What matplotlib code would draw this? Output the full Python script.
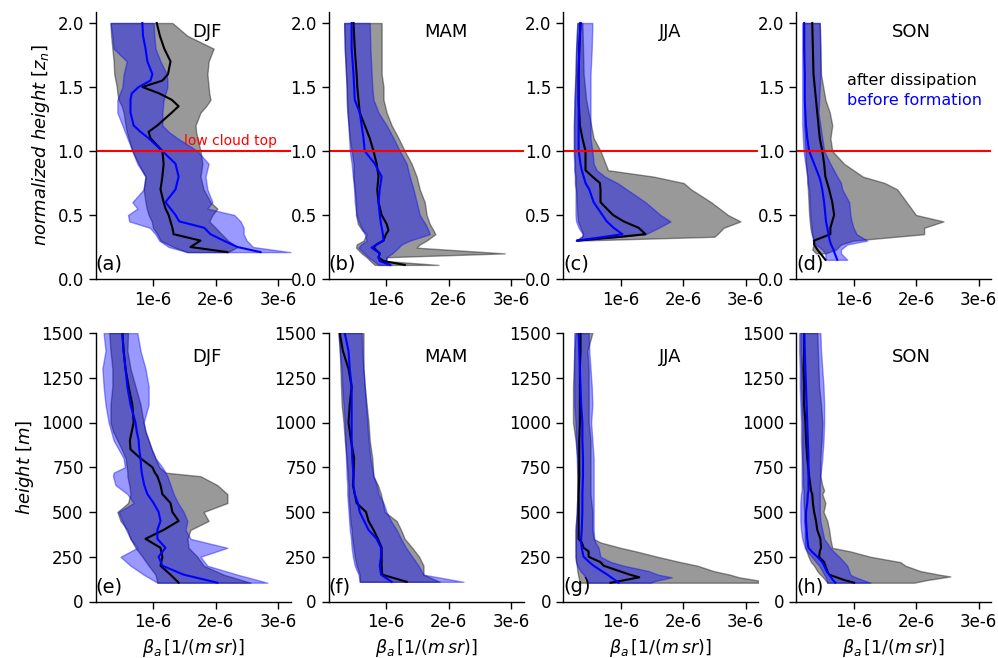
import numpy as np
import matplotlib
matplotlib.use("Agg")
import matplotlib.pyplot as plt

SCALE = 1e-6
nan = np.nan

seasons = ["DJF", "MAM", "JJA", "SON"]
panel_letters = ["(a)", "(b)", "(c)", "(d)", "(e)", "(f)", "(g)", "(h)"]
xtick_values = [1e-6, 2e-6, 3e-6]
xtick_labels = ["1e-6", "2e-6", "3e-6"]
ytick_top = [0.0, 0.5, 1.0, 1.5, 2.0]
ytick_bottom = [0, 250, 500, 750, 1000, 1250, 1500]

# ---------------- top row: normalized height ----------------
# (a) DJF
a_y = [2.0, 1.9, 1.8, 1.7, 1.6, 1.55, 1.5, 1.45, 1.4, 1.35, 1.3, 1.2, 1.15, 1.1, 1.0,
       0.9, 0.8, 0.7, 0.6, 0.55, 0.5, 0.45, 0.4, 0.35, 0.3, 0.25, 0.21]
a_after_lo = [0.32, 0.33, 0.35, 0.37, 0.38, 0.40, 0.42, 0.43, 0.45, 0.50, 0.53, 0.56, 0.58, 0.61, 0.67,
              0.77, 0.88, 0.85, 0.88, 0.90, 0.93, 0.98, 1.00, 1.07, 1.12, 1.33, 1.55]
a_after_hi = [1.31, 1.55, 1.97, 1.89, 1.87, 1.88, 1.89, 1.90, 1.92, 1.85, 1.76, 1.68, 1.69, 1.71, 1.76,
              1.79, 1.76, 1.81, 1.92, 2.03, 1.95, 1.90, 2.00, 2.10, 2.20, 2.35, 2.20]
a_after_med = [1.06, 1.11, 1.18, 1.28, 1.24, 1.15, 0.83, 1.10, 1.30, 1.41, 1.30, 1.07, 0.93, 0.96, 1.15,
               1.17, 1.15, 1.12, 1.17, 1.20, 1.25, 1.28, 1.31, 1.33, 1.76, 1.60, 2.19]
a_before_lo = [0.32, 0.35, 0.37, 0.58, 0.53, 0.52, 0.51, 0.47, 0.43, 0.43, 0.43, 0.51, 0.55, 0.59, 0.67,
               0.75, 0.88, 0.85, 0.67, 0.75, 0.60, 0.62, 0.95, 1.04, 1.10, 1.25, 1.55]
a_before_hi = [1.01, 1.02, 1.04, 1.12, 1.22, 1.23, 1.23, 1.20, 1.17, 1.16, 1.15, 1.15, 1.25, 1.39, 1.71,
               1.89, 1.84, 1.87, 1.95, 1.87, 2.30, 2.40, 2.45, 2.45, 2.50, 2.60, 3.20]
a_before_med = [0.83, 0.84, 0.88, 0.91, 0.99, 0.96, 0.77, 0.66, 0.64, 0.64, 0.64, 0.69, 0.80, 0.93, 1.15,
                1.36, 1.41, 1.36, 1.20, 1.28, 1.36, 1.42, 1.82, 1.92, 2.13, 2.35, 2.72]

# (b) MAM
b_y = [2.0, 1.8, 1.6, 1.5, 1.4, 1.3, 1.2, 1.1, 1.0, 0.9, 0.8, 0.7, 0.6, 0.5, 0.43, 0.38,
       0.35, 0.3, 0.27, 0.245, 0.2, 0.17, 0.14, 0.11]
b_after_lo = [0.33, 0.34, 0.36, 0.37, 0.37, 0.38, 0.40, 0.42, 0.45, 0.48, 0.48, 0.50, 0.52, 0.52, 0.55, 0.62,
              0.69, 0.64, 0.53, 0.52, 0.61, 0.69, 0.75, 0.82]
b_after_hi = [0.93, 0.93, 0.93, 0.96, 0.96, 1.01, 1.09, 1.20, 1.30, 1.41, 1.49, 1.54, 1.62, 1.65, 1.70, 1.76,
              1.79, 1.65, 1.54, 1.49, 2.90, 1.01, 1.01, 1.84]
b_after_med = [0.48, 0.50, 0.53, 0.54, 0.56, 0.58, 0.66, 0.74, 0.80, 0.85, 0.88, 0.86, 0.88, 0.93, 1.01, 1.04,
               1.00, 0.96, 0.85, 0.80, 0.90, 0.88, 0.96, 1.30]
b_before_lo = [0.33, 0.34, 0.36, 0.37, 0.38, 0.39, 0.40, 0.41, 0.42, 0.45, 0.47, 0.49, 0.50, 0.53, 0.58, 0.63,
               0.66, 0.69, 0.60, 0.56, 0.65, 0.72, 0.80, 0.88]
b_before_hi = [0.74, 0.75, 0.77, 0.78, 0.80, 0.88, 1.01, 1.12, 1.22, 1.33, 1.38, 1.44, 1.49, 1.54, 1.63, 1.68,
               1.70, 1.38, 1.25, 1.20, 1.10, 1.01, 1.00, 1.09]
b_before_med = [0.45, 0.45, 0.48, 0.49, 0.50, 0.58, 0.61, 0.64, 0.66, 0.82, 0.93, 0.90, 0.88, 0.90, 0.92, 0.94,
                0.95, 0.96, 0.85, 0.77, 0.90, 0.88, 0.90, 1.06]

# (c) JJA
c_y = [2.0, 1.8, 1.6, 1.4, 1.3, 1.2, 1.1, 1.0, 0.9, 0.85, 0.8, 0.75, 0.7, 0.6, 0.5, 0.45,
       0.4, 0.35, 0.33, 0.3]
c_after_lo = [0.31, 0.29, 0.28, 0.27, 0.26, 0.26, 0.26, 0.26, 0.27, 0.27, 0.28, 0.28, 0.29, 0.30, 0.31, 0.32,
              0.36, 0.40, 0.38, 0.30]
c_after_hi = [0.39, 0.40, 0.41, 0.45, 0.49, 0.53, 0.57, 0.68, 0.76, 0.80, 1.53, 2.01, 2.13, 2.45, 2.72, 2.92,
              2.65, 2.55, 2.50, 0.33]
c_after_med = [0.36, 0.34, 0.33, 0.33, 0.34, 0.35, 0.39, 0.44, 0.44, 0.44, 0.55, 0.67, 0.68, 0.68, 0.88, 1.05,
               1.29, 1.40, 1.00, 0.31]
c_before_lo = [0.31, 0.29, 0.28, 0.26, 0.26, 0.25, 0.25, 0.25, 0.26, 0.26, 0.27, 0.27, 0.28, 0.28, 0.28, 0.29,
               0.33, 0.40, 0.38, 0.28]
c_before_hi = [0.55, 0.54, 0.52, 0.52, 0.52, 0.52, 0.52, 0.55, 0.57, 0.62, 0.75, 0.95, 1.10, 1.40, 1.64, 1.80,
               1.61, 1.40, 1.00, 0.28]
c_before_med = [0.36, 0.34, 0.33, 0.33, 0.33, 0.33, 0.33, 0.33, 0.36, 0.38, 0.41, 0.44, 0.50, 0.57, 0.71, 0.78,
                0.89, 1.03, 0.75, 0.31]

# (d) SON
d_y = [2.0, 1.8, 1.6, 1.4, 1.3, 1.2, 1.1, 1.0, 0.9, 0.8, 0.75, 0.7, 0.6, 0.5, 0.45, 0.4,
       0.35, 0.3, 0.27, 0.23, 0.2, 0.15]
d_after_lo = [0.21, 0.21, 0.21, 0.21, 0.21, 0.21, 0.22, 0.23, 0.24, 0.26, 0.26, 0.27, 0.28, 0.29, 0.30, 0.31,
              0.33, 0.37, 0.36, 0.34, 0.40, nan]
d_after_hi = [0.46, 0.47, 0.48, 0.55, 0.62, 0.66, 0.63, 0.66, 0.85, 1.15, 1.50, 1.70, 1.85, 2.00, 2.44, 2.13,
              2.13, 1.00, 0.80, 0.72, 0.55, nan]
d_after_med = [0.34, 0.35, 0.36, 0.40, 0.42, 0.44, 0.46, 0.50, 0.53, 0.55, 0.58, 0.61, 0.66, 0.69, 0.66, 0.63,
               0.63, 0.37, 0.37, 0.42, 0.47, 0.55]
d_before_lo = [0.18, 0.18, 0.18, 0.18, 0.18, 0.18, 0.19, 0.20, 0.23, 0.26, 0.27, 0.29, 0.30, 0.31, 0.32, 0.33,
               0.34, 0.35, 0.40, 0.50, 0.55, 0.55]
d_before_hi = [0.46, 0.47, 0.47, 0.45, 0.44, 0.47, 0.50, 0.53, 0.63, 0.74, 0.80, 0.82, 0.93, 0.95, 0.97, 1.00,
               1.05, 1.22, 0.90, 0.80, 0.80, 0.90]
d_before_med = [0.21, 0.21, 0.22, 0.22, 0.23, 0.24, 0.26, 0.29, 0.37, 0.45, 0.48, 0.50, 0.53, 0.55, 0.56, 0.58,
                0.60, 0.62, 0.64, 0.68, 0.70, 0.74]

# ---------------- bottom row: height [m] ----------------
# (e) DJF
e_y = [1500, 1400, 1300, 1200, 1100, 1000, 950, 900, 850, 800, 750, 720, 700, 650, 600, 550,
       500, 450, 400, 350, 300, 250, 200, 150, 105]
e_after_lo = [0.30, 0.32, 0.35, 0.35, 0.32, 0.32, 0.36, 0.43, 0.50, 0.56, 0.58, 0.59, 0.59, 0.62, 0.64, 0.60,
              0.43, 0.48, 0.59, 0.64, 0.72, 0.83, 0.93, 1.04, 1.07]
e_after_hi = [0.60, 0.59, 0.64, 0.72, 0.80, 0.85, 0.88, 0.93, 0.98, 1.04, 1.10, 1.20, 1.76, 2.03, 2.19, 2.19,
              1.81, 1.89, 1.60, 1.55, 1.57, 1.71, 1.81, 2.13, 2.56]
e_after_med = [0.51, 0.53, 0.56, 0.61, 0.67, 0.69, 0.66, 0.63, 0.64, 0.80, 0.99, 1.03, 1.07, 1.12, 1.15, 1.28,
               1.31, 1.41, 1.17, 0.88, 1.12, 1.15, 1.12, 1.28, 1.41]
e_before_lo = [0.21, 0.24, 0.19, 0.21, 0.24, 0.29, 0.33, 0.37, 0.45, 0.53, 0.55, 0.37, 0.36, 0.40, 0.59, 0.69,
               0.45, 0.51, 0.57, 0.64, 0.75, 0.48, 0.64, 0.85, 1.07]
e_before_hi = [0.75, 0.80, 0.88, 0.93, 0.93, 0.85, 0.88, 0.93, 0.98, 1.04, 1.15, 1.20, 1.23, 1.28, 1.33, 1.40,
               1.49, 1.55, 1.52, 1.60, 2.19, 1.76, 1.87, 2.35, 2.83]
e_before_med = [0.51, 0.53, 0.56, 0.59, 0.64, 0.72, 0.74, 0.77, 0.78, 0.80, 0.81, 0.82, 0.83, 0.86, 0.91, 1.01,
                1.09, 1.12, 1.07, 1.07, 1.20, 1.09, 1.15, 1.49, 2.03]

# (f) MAM
f_y = [1500, 1400, 1300, 1200, 1100, 1000, 900, 800, 700, 650, 600, 550, 500, 450, 400, 350,
       300, 250, 200, 150, 110]
f_after_lo = [0.24, 0.26, 0.27, 0.28, 0.29, 0.32, 0.34, 0.37, 0.39, 0.40, 0.40, 0.41, 0.42, 0.43, 0.45, 0.46,
              0.48, 0.50, 0.53, 0.58, 0.58]
f_after_hi = [0.64, 0.64, 0.64, 0.66, 0.69, 0.72, 0.74, 0.78, 0.80, 0.87, 0.92, 0.95, 0.98, 1.17, 1.24, 1.30,
              1.42, 1.53, 1.60, 1.60, 1.86]
f_after_med = [0.26, 0.31, 0.40, 0.45, 0.42, 0.40, 0.44, 0.49, 0.48, 0.47, 0.50, 0.53, 0.68, 0.72, 0.80, 0.87,
               0.93, 0.93, 0.93, 0.94, 1.33]
f_before_lo = [0.24, 0.26, 0.29, 0.30, 0.32, 0.34, 0.35, 0.36, 0.37, 0.38, 0.38, 0.39, 0.40, 0.41, 0.42, 0.44,
               0.45, 0.47, 0.50, 0.56, 0.58]
f_before_hi = [0.61, 0.62, 0.64, 0.66, 0.68, 0.70, 0.72, 0.75, 0.80, 0.85, 0.88, 0.96, 1.01, 1.08, 1.17, 1.24,
               1.32, 1.42, 1.52, 1.60, 2.24]
f_before_med = [0.34, 0.40, 0.42, 0.45, 0.45, 0.45, 0.45, 0.46, 0.48, 0.48, 0.50, 0.55, 0.58, 0.65, 0.72, 0.85,
                0.92, 0.92, 0.90, 0.92, 1.09]

# (g) JJA
g_y = [1500, 1400, 1300, 1200, 1100, 1000, 900, 800, 700, 600, 500, 400, 350, 330, 300, 280,
       250, 220, 200, 170, 150, 135, 115, 105]
g_after_lo = [0.28, 0.26, 0.25, 0.24, 0.24, 0.24, 0.28, 0.31, 0.31, 0.31, 0.30, 0.28, 0.28, 0.28, 0.28, 0.28,
              0.28, 0.29, 0.30, 0.31, 0.32, 0.33, 0.34, 0.34]
g_after_hi = [0.55, 0.47, 0.49, 0.49, 0.49, 0.49, 0.52, 0.52, 0.52, 0.52, 0.55, 0.55, 0.57, 0.68, 1.00, 1.25,
              1.59, 1.96, 2.23, 2.49, 2.75, 2.90, 3.25, 3.25]
g_after_med = [0.36, 0.36, 0.35, 0.35, 0.35, 0.35, 0.34, 0.34, 0.34, 0.33, 0.33, 0.33, 0.33, 0.38, 0.41, 0.49,
               0.49, 0.68, 0.73, 0.98, 1.15, 1.30, 1.00, 0.84]
g_before_lo = [0.26, 0.26, 0.26, 0.26, 0.26, 0.28, 0.29, 0.30, 0.31, 0.31, 0.30, 0.28, 0.28, 0.28, 0.28, 0.28,
               0.28, 0.29, 0.31, 0.36, 0.41, 0.44, 0.47, 0.47]
g_before_hi = [0.49, 0.50, 0.52, 0.54, 0.55, 0.53, 0.55, 0.57, 0.57, 0.57, 0.57, 0.57, 0.58, 0.60, 0.65, 0.66,
               0.68, 0.85, 1.05, 1.45, 1.60, 1.82, 1.55, 1.48]
g_before_med = [0.33, 0.34, 0.35, 0.36, 0.37, 0.39, 0.39, 0.40, 0.40, 0.39, 0.39, 0.38, 0.37, 0.37, 0.38, 0.39,
                0.41, 0.50, 0.57, 0.70, 0.79, 0.85, 0.93, 0.97]

# (h) SON
h_y = [1500, 1400, 1300, 1200, 1100, 1000, 900, 800, 700, 650, 620, 600, 550, 500, 450, 400,
       350, 300, 280, 250, 220, 200, 170, 150, 140, 120, 105]
h_after_lo = [0.15, 0.15, 0.16, 0.16, 0.17, 0.18, 0.18, 0.18, 0.19, 0.19, 0.20, 0.20, 0.20, 0.21, 0.21, 0.22,
              0.22, 0.23, 0.25, 0.28, 0.32, 0.37, 0.42, 0.47, 0.50, 0.55, 0.58]
h_after_hi = [0.42, 0.43, 0.44, 0.45, 0.48, 0.50, 0.49, 0.47, 0.47, 0.50, 0.53, 0.50, 0.55, 0.52, 0.58, 0.61,
              0.63, 0.66, 0.95, 1.27, 1.75, 1.83, 2.07, 2.37, 2.55, 2.18, 1.97]
h_after_med = [0.21, 0.21, 0.20, 0.21, 0.21, 0.23, 0.24, 0.26, 0.29, 0.31, 0.32, 0.34, 0.35, 0.37, 0.40, 0.42,
               0.47, 0.48, 0.46, 0.45, 0.53, 0.55, 0.58, 0.61, 0.69, 0.85, 1.01]
h_before_lo = [0.13, 0.13, 0.14, 0.14, 0.15, 0.16, 0.16, 0.17, 0.17, 0.17, 0.17, 0.16, 0.15, 0.15, 0.15, 0.16,
               0.18, 0.22, 0.26, 0.33, 0.40, 0.45, 0.50, 0.53, 0.55, 0.57, 0.58]
h_before_hi = [0.47, 0.48, 0.50, 0.52, 0.53, 0.53, 0.52, 0.50, 0.47, 0.46, 0.46, 0.46, 0.46, 0.46, 0.47, 0.50,
               0.53, 0.63, 0.68, 0.77, 0.85, 0.90, 0.93, 0.95, 1.00, 1.15, 1.27]
h_before_med = [0.21, 0.22, 0.23, 0.24, 0.25, 0.26, 0.27, 0.28, 0.28, 0.28, 0.28, 0.27, 0.26, 0.24, 0.24, 0.25,
                0.26, 0.28, 0.33, 0.42, 0.50, 0.53, 0.57, 0.61, 0.63, 0.67, 0.71]

panels = [
    (a_y, a_after_lo, a_after_hi, a_after_med, a_before_lo, a_before_hi, a_before_med),
    (b_y, b_after_lo, b_after_hi, b_after_med, b_before_lo, b_before_hi, b_before_med),
    (c_y, c_after_lo, c_after_hi, c_after_med, c_before_lo, c_before_hi, c_before_med),
    (d_y, d_after_lo, d_after_hi, d_after_med, d_before_lo, d_before_hi, d_before_med),
    (e_y, e_after_lo, e_after_hi, e_after_med, e_before_lo, e_before_hi, e_before_med),
    (f_y, f_after_lo, f_after_hi, f_after_med, f_before_lo, f_before_hi, f_before_med),
    (g_y, g_after_lo, g_after_hi, g_after_med, g_before_lo, g_before_hi, g_before_med),
    (h_y, h_after_lo, h_after_hi, h_after_med, h_before_lo, h_before_hi, h_before_med),
]

plt.rcParams['font.family'] = ['DejaVu Sans']
plt.rcParams['font.size'] = 12

W, H = 998, 658
fig = plt.figure(figsize=(W / 100, H / 100), dpi=100)

col_left_px = [95.5, 328.5, 563.0, 796.0]
ax_w_px = 195.0
rows = [(12.0, 279.0), (333.0, 601.5)]  # (top px, bottom px)

axes = []
for r, (tp, bp) in enumerate(rows):
    for c in range(4):
        ax = fig.add_axes([col_left_px[c] / W, 1 - bp / H, ax_w_px / W, (bp - tp) / H])
        axes.append(ax)

for i, ax in enumerate(axes):
    row = i // 4
    col = i % 4
    y, alo, ahi, amed, blo, bhi, bmed = [np.asarray(v, dtype=float) for v in panels[i]]
    ax.fill_betweenx(y, alo * SCALE, ahi * SCALE, color='k', alpha=0.4, lw=1.0)
    ax.fill_betweenx(y, blo * SCALE, bhi * SCALE, color='b', alpha=0.4, lw=1.0)
    ax.plot(amed * SCALE, y, color='k', lw=1.5)
    ax.plot(bmed * SCALE, y, color='b', lw=1.5)

    ax.set_xlim(0.08e-6, 3.2e-6)
    ax.set_xticks(xtick_values)
    ax.set_xticklabels(xtick_labels)
    for s in ['top', 'right']:
        ax.spines[s].set_visible(False)
    for s in ['left', 'bottom']:
        ax.spines[s].set_linewidth(1.0)
    ax.tick_params(direction='out', length=5, width=1.0, labelsize=12)

    if row == 0:
        ax.set_ylim(0, 2.086)
        ax.set_yticks(ytick_top)
        ax.set_yticklabels([f"{v:.1f}" for v in ytick_top])
        ax.axhline(1.0, color='red', lw=1.5)
        ax.text(1.62e-6, 1.93, seasons[col], ha='left', va='center', fontsize=13)
    else:
        ax.set_ylim(0, 1500)
        ax.set_yticks(ytick_bottom)
        ax.set_xlabel(r'$\beta_a\,[1/(m\,sr)]$', fontsize=12.5)
        ax.text(1.62e-6, 1367, seasons[col], ha='left', va='center', fontsize=13)
    ax.text(0.0, 0.02, panel_letters[i], transform=ax.transAxes, ha='left', va='bottom', fontsize=14)

axes[0].set_ylabel(r'$normalized\ height\ [z_n]$', fontsize=13)
axes[4].set_ylabel(r'$height\ [m]$', fontsize=13)
axes[0].text(1.5e-6, 1.08, 'low cloud top', color='red', fontsize=10, ha='left', va='center')
axes[3].text(0.9e-6, 1.547, 'after dissipation', color='black', fontsize=11.5, ha='left', va='center')
axes[3].text(0.9e-6, 1.393, 'before formation', color='blue', fontsize=11.5, ha='left', va='center')

fig.savefig('out.png', dpi=100)
